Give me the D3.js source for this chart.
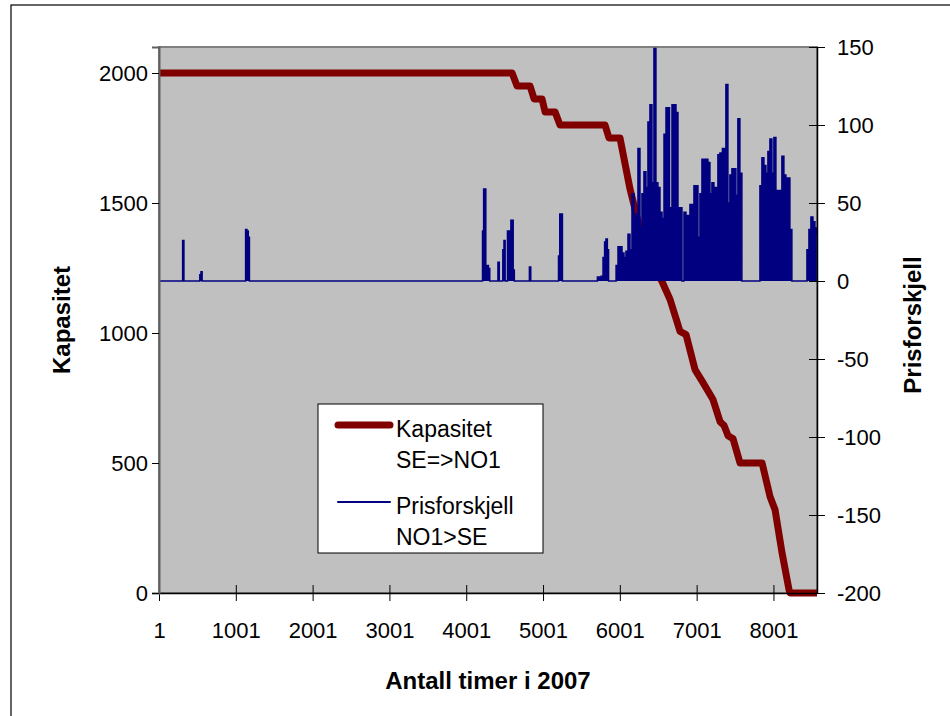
<!DOCTYPE html>
<html>
<head>
<meta charset="utf-8">
<script src="https://cdn.jsdelivr.net/npm/d3@7"></script>
<style>
  html, body { margin: 0; padding: 0; background: #ffffff; }
  svg { display: block; font-family: "Liberation Sans", Arial, sans-serif; }
</style>
</head>
<body>
<svg id="chart" width="950" height="716"></svg>
<script>
// ---- Data ----
const xTickValues = [1, 1001, 2001, 3001, 4001, 5001, 6001, 7001, 8001];
const leftTickValues = [0, 500, 1000, 1500, 2000];
const rightTickValues = [-200, -150, -100, -50, 0, 50, 100, 150];

// Kapasitet SE=>NO1 (sorted duration curve), hour index -> MW
const capHours = [1, 4598, 4663, 4832, 4885, 4988, 5028, 5158, 5222, 5808, 5860, 6003, 6134, 6264, 6394, 6550, 6655, 6785, 6863, 6980, 7084, 7214, 7306, 7358, 7410, 7475, 7566, 7853, 7957, 8022, 8113, 8204, 8217, 8568];
const capValues = [2000, 2000, 1950, 1950, 1900, 1900, 1850, 1850, 1800, 1800, 1750, 1750, 1553, 1399, 1276, 1198, 1129, 1006, 994, 859, 809, 744, 659, 644, 605, 593, 500, 500, 370, 320, 154, 12, 0, 0];

// Prisforskjell NO1>SE, hour index -> price difference
const priceHours = [
  1, 300, 317, 334, 525, 540, 555, 570, 1120, 1137, 1155, 1172, 1185,
  4205, 4221, 4234, 4250, 4262, 4280, 4300, 4315, 4405, 4423, 4440,
  4470, 4485, 4500, 4515, 4530, 4546, 4560, 4575, 4590, 4605, 4620, 4635,
  4815, 4832, 4850, 5195, 5210, 5228, 5245, 5262,
  5700, 5717, 5743, 5769, 5795, 5810, 5830, 5847, 5862, 5940,
  5964, 5990, 6016, 6042, 6068, 6094, 6120, 6146, 6172, 6198, 6224, 6250, 6276, 6302,
  6328, 6354, 6380, 6406, 6432, 6458, 6484, 6510, 6537, 6563, 6589, 6615, 6641, 6654,
  6667, 6693, 6719, 6745, 6771, 6797, 6823, 6849, 6875, 6901, 6927, 6953, 6979, 7005,
  7031, 7057, 7083, 7109, 7135, 7161, 7187, 7213, 7239, 7265, 7291, 7317, 7330, 7343,
  7369, 7395, 7421, 7447, 7473, 7499, 7525, 7551, 7577, 7603,
  7812, 7838, 7864, 7890, 7916, 7942, 7968, 7994, 8020, 8046, 8072, 8098, 8124, 8150,
  8176, 8202, 8228, 8254,
  8424, 8450, 8476, 8502, 8528, 8554, 8566
];
const priceValues = [
  0, 0, 26, 0, 0, 4, 6, 0, 0, 33, 32, 28, 0,
  0, 32, 59, 59, 10, 10, 8, 0, 0, 12, 0,
  0, 20, 26, 0, 0, 32, 32, 8, 39, 39, 7, 0,
  0, 9, 0, 0, 16, 43, 43, 0,
  0, 2.5, 2.5, 3, 15, 25, 27, 20, 0, 0,
  10, 22, 22, 18, 15, 19, 30, 20, 56, 40, 43, 85, 35, 56,
  70, 60, 102, 113, 63, 149, 63, 60, 44, 40, 94, 111, 111, 31,
  47, 113, 113, 108, 47, 47, 0, 44, 42, 42, 49, 49, 61, 61,
  28, 56, 78, 78, 78, 76, 56, 63, 60, 60, 81, 82, 13, 85,
  85, 126, 50, 68, 72, 72, 55, 104, 69, 0,
  0, 61, 79, 74, 69, 83, 91, 69, 92, 58, 58, 58, 80, 68,
  66, 66, 33, 0,
  0, 20, 33, 41, 38, 34, 30
];

const legendLabels = [["Kapasitet", "SE=>NO1"], ["Prisforskjell", "NO1>SE"]];

// ---- Layout ----
const svg = d3.select("#chart");
const plot = { left: 159, top: 47, right: 817, bottom: 593 };

const x = d3.scaleLinear().domain([1, 8568]).range([plot.left, plot.right]);
const yL = d3.scaleLinear().domain([0, 2100]).range([plot.bottom, plot.top]);
const yR = d3.scaleLinear().domain([-200, 150]).range([plot.bottom, plot.top]);

const RED = "#800000", BLUE = "#000080";
const fmt = d3.format("d");

// outer frame
svg.append("rect").attr("x", 11).attr("y", 5).attr("width", 950).attr("height", 720)
  .attr("fill", "#ffffff").attr("stroke", "#000").attr("stroke-width", 1.2);

// plot background
svg.append("rect").attr("x", plot.left).attr("y", plot.top)
  .attr("width", plot.right - plot.left).attr("height", plot.bottom - plot.top)
  .attr("fill", "#c0c0c0").attr("stroke", "#808080").attr("stroke-width", 2);

// capacity line
const capData = capHours.map((h, i) => [h, capValues[i]]);
svg.append("path").datum(capData)
  .attr("d", d3.line().x(d => x(d[0])).y(d => yL(d[1])))
  .attr("fill", "none").attr("stroke", RED).attr("stroke-width", 7)
  .attr("stroke-linejoin", "round");

// price difference series
const priceData = priceHours.map((h, i) => [h, priceValues[i]]);
svg.append("path").datum(priceData)
  .attr("d", d3.area().curve(d3.curveStep).x(d => x(d[0])).y0(yR(0)).y1(d => yR(d[1])))
  .attr("fill", BLUE).attr("stroke", "none");
svg.append("path").datum(priceData)
  .attr("d", d3.line().curve(d3.curveStep).x(d => x(d[0])).y(d => yR(d[1])))
  .attr("fill", "none").attr("stroke", BLUE).attr("stroke-width", 1.5);

// axes
const fs = 22;
const gx = svg.append("g").attr("transform", `translate(0,${plot.bottom})`)
  .call(d3.axisBottom(x).tickValues(xTickValues).tickFormat(fmt).tickSize(0).tickPadding(29));
gx.select(".domain").attr("stroke", "#000").attr("stroke-width", 1.5);
gx.selectAll(".tick line").remove();
gx.selectAll(".tick").append("line").attr("y1", -8).attr("y2", 8).attr("stroke", "#000").attr("stroke-width", 1);
gx.selectAll("text").attr("font-size", fs).attr("fill", "#000").attr("font-family", "Liberation Sans, Arial");

const gl = svg.append("g").attr("transform", `translate(${plot.left},0)`)
  .call(d3.axisLeft(yL).tickValues(leftTickValues).tickFormat(fmt).tickSize(7).tickPadding(4));
gl.select(".domain").attr("stroke", "#606060").attr("stroke-width", 2);
gl.selectAll(".tick line").attr("stroke", "#000");
gl.selectAll("text").attr("font-size", fs).attr("fill", "#000").attr("font-family", "Liberation Sans, Arial");

const gr = svg.append("g").attr("transform", `translate(${plot.right},0)`)
  .call(d3.axisRight(yR).tickValues(rightTickValues).tickFormat(d => d < 0 ? "-" + Math.abs(d) : String(d)).tickSize(0).tickPadding(20));
gr.select(".domain").attr("stroke", "#000").attr("stroke-width", 1.5);
gr.selectAll(".tick line").remove();
gr.selectAll(".tick").append("line").attr("x1", -8).attr("x2", 8).attr("stroke", "#000").attr("stroke-width", 1);
gr.selectAll("text").attr("font-size", fs).attr("fill", "#000").attr("font-family", "Liberation Sans, Arial");

// axis titles
svg.append("text").attr("transform", "translate(70,320) rotate(-90)")
  .attr("text-anchor", "middle").attr("font-size", 24).attr("font-weight", "bold").text("Kapasitet");
svg.append("text").attr("transform", "translate(921,325) rotate(-90)")
  .attr("text-anchor", "middle").attr("font-size", 24).attr("font-weight", "bold").text("Prisforskjell");
svg.append("text").attr("x", 488).attr("y", 689)
  .attr("text-anchor", "middle").attr("font-size", 24).attr("font-weight", "bold").text("Antall timer i 2007");

// legend
const lg = svg.append("g");
lg.append("rect").attr("x", 318).attr("y", 404).attr("width", 225).attr("height", 149)
  .attr("fill", "#fff").attr("stroke", "#000").attr("stroke-width", 1);
const legendStyles = [{ c: RED, w: 7, y: 425 }, { c: BLUE, w: 2, y: 502 }];
legendLabels.forEach((lines, i) => {
  const s = legendStyles[i];
  lg.append("line").attr("x1", 338).attr("x2", 390).attr("y1", s.y).attr("y2", s.y)
    .attr("stroke", s.c).attr("stroke-width", s.w).attr("stroke-linecap", "round");
  lines.forEach((t, j) => {
    lg.append("text").attr("x", 396).attr("y", s.y + 12 + j * 31)
      .attr("font-size", 23).attr("fill", "#000").text(t);
  });
});
</script>
</body>
</html>
